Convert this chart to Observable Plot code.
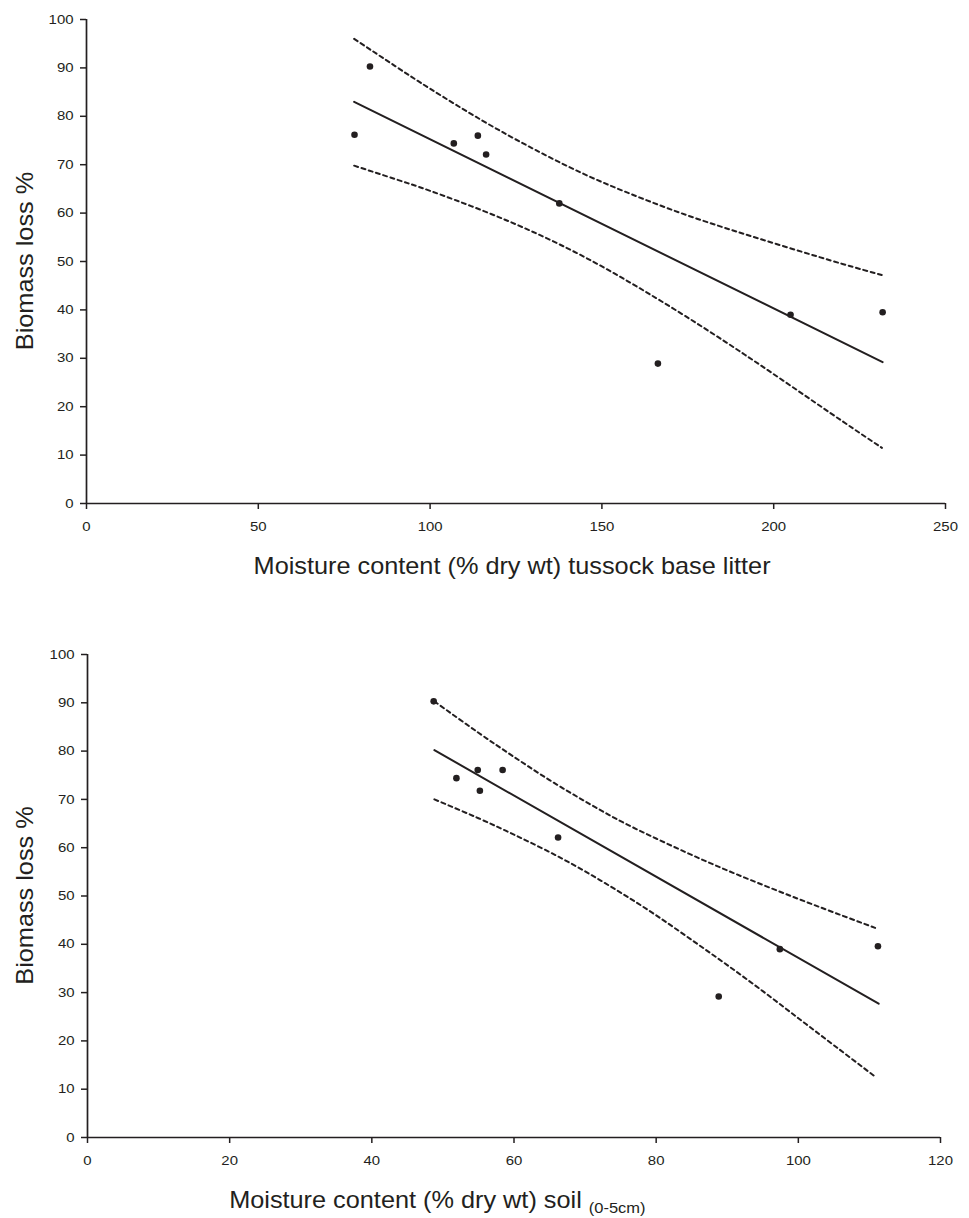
<!DOCTYPE html>
<html>
<head>
<meta charset="utf-8">
<script src="https://cdn.jsdelivr.net/npm/d3@7"></script>
<script src="https://cdn.jsdelivr.net/npm/@observablehq/plot@0.6"></script>
<style>
  body { margin: 0; background: #fff; }
  #chart svg { display: block; }
</style>
</head>
<body>
<div id="chart"></div>
<script>
// ---------- shared ----------
const yTicks = [0, 10, 20, 30, 40, 50, 60, 70, 80, 90, 100];
const yTitle = "Biomass loss %";

// ---------- panel 1: tussock base litter ----------
const litterTicks = [0, 50, 100, 150, 200, 250];
const litterTitle = "Moisture content (% dry wt) tussock base litter";
const litterX = [78.0, 82.5, 106.9, 113.9, 116.3, 137.6, 166.3, 204.9, 231.7];
const litterY = [76.2, 90.3, 74.4, 76.0, 72.1, 62.0, 28.9, 39.0, 39.5];
const litterFitX = [77.9, 231.7];
const litterFitY = [83.0, 29.2];
const litterCiX = [77.9, 90, 100, 115, 130, 145, 160, 175, 190, 205, 220, 231.5];
const litterCiUpper = [96.0, 90.3, 85.7, 79.2, 73.3, 68.0, 63.5, 59.5, 56.0, 52.7, 49.5, 47.2];
const litterCiLower = [69.8, 67.0, 64.6, 60.6, 56.1, 50.9, 44.9, 38.4, 31.5, 24.3, 17.0, 11.5];

// ---------- panel 2: soil (0-5cm) ----------
const soilTicks = [0, 20, 40, 60, 80, 100, 120];
const soilTitle = "Moisture content (% dry wt) soil ";
const soilTitleSub = "(0-5cm)";
const soilX = [48.7, 51.9, 54.9, 55.2, 58.4, 66.2, 88.8, 97.4, 111.2];
const soilY = [90.3, 74.4, 76.1, 71.8, 76.1, 62.1, 29.2, 39.0, 39.6];
const soilFitX = [48.8, 111.3];
const soilFitY = [80.2, 27.7];
const soilCiX = [48.8, 55, 60, 65, 70, 75, 80, 85, 90, 95, 100, 105, 110.8];
const soilCiUpper = [90.3, 83.8, 78.8, 74.0, 69.6, 65.5, 61.9, 58.5, 55.3, 52.3, 49.4, 46.6, 43.4];
const soilCiLower = [70.0, 66.1, 62.7, 59.1, 55.1, 50.7, 46.0, 40.9, 35.7, 30.3, 24.7, 19.1, 12.6];

const INK = "#231f20";
const FONT = "'Liberation Sans', Arial, Helvetica, sans-serif";

function zip(xs, ys) { return xs.map((x, i) => ({x, y: ys[i]})); }

function panel(o) {
  const xMax = o.ticks[o.ticks.length - 1];
  const node = Plot.plot({
    width: 969,
    height: 609,
    marginTop: o.mt, marginBottom: o.mb, marginLeft: o.ml, marginRight: o.mr,
    style: {fontFamily: FONT, fontSize: "13px", color: INK, background: "#fff", overflow: "visible"},
    x: {domain: [0, xMax]},
    y: {domain: [0, 100]},
    marks: [
      Plot.axisX({ticks: o.ticks, tickSize: 6, tickPadding: 12, label: null, strokeWidth: 1.5}),
      Plot.axisY({ticks: yTicks, tickSize: 6, tickPadding: 7, label: null, strokeWidth: 1.5}),
      Plot.ruleX([0], {y1: 0, y2: 100, stroke: INK, strokeWidth: 1.7}),
      Plot.ruleY([0], {x1: 0, x2: xMax, stroke: INK, strokeWidth: 1.7}),
      Plot.line(zip(o.ciX, o.ciU), {x: "x", y: "y", curve: "natural", stroke: INK, strokeWidth: 2, strokeDasharray: "4,3.6"}),
      Plot.line(zip(o.ciX, o.ciL), {x: "x", y: "y", curve: "natural", stroke: INK, strokeWidth: 2, strokeDasharray: "4,3.6"}),
      Plot.line(zip(o.fitX, o.fitY), {x: "x", y: "y", stroke: INK, strokeWidth: 2}),
      Plot.dot(zip(o.px, o.py), {x: "x", y: "y", r: 3.3, fill: INK, stroke: "none"})
    ]
  });
  const svg = d3.select(node);
  // widen tick label glyphs slightly to match the reference typeface
  svg.selectAll('g[aria-label="x-axis tick label"] text, g[aria-label="y-axis tick label"] text')
    .attr("transform", function() { return (this.getAttribute("transform") || "") + " scale(1.15,1)"; });
  const xs = node.scale("x"), ys = node.scale("y");
  const y0 = ys.apply(0);
  // y title
  svg.append("text")
    .attr("transform", `translate(33,${ys.apply(50)}) rotate(-90) scale(1.1,1)`)
    .attr("text-anchor", "middle")
    .attr("font-family", FONT).attr("font-size", 23).attr("fill", INK)
    .text(yTitle);
  // x title
  const t = svg.append("text")
    .attr("font-family", FONT).attr("font-size", 23).attr("fill", INK);
  if (o.sub) {
    t.attr("transform", `translate(${xs.apply(o.titleAt)},${y0 + 71}) scale(1.1,1)`).attr("text-anchor", "start");
    t.append("tspan").text(o.title);
    t.append("tspan").attr("font-size", 15).attr("dy", 5).text(o.sub);
  } else {
    t.attr("transform", `translate(${xs.apply(o.titleAt)},${y0 + 71}) scale(1.1,1)`).attr("text-anchor", "middle");
    t.text(o.title);
  }
  return node;
}

const chart = document.getElementById("chart");
chart.append(panel({
  mt: 19, mb: 106, ml: 86, mr: 24,
  ticks: litterTicks, title: litterTitle, titleAt: 124,
  px: litterX, py: litterY, fitX: litterFitX, fitY: litterFitY,
  ciX: litterCiX, ciU: litterCiUpper, ciL: litterCiLower
}));
chart.append(panel({
  mt: 45, mb: 81, ml: 87, mr: 29,
  ticks: soilTicks, title: soilTitle, sub: soilTitleSub, titleAt: 20,
  px: soilX, py: soilY, fitX: soilFitX, fitY: soilFitY,
  ciX: soilCiX, ciU: soilCiUpper, ciL: soilCiLower
}));
</script>
</body>
</html>
